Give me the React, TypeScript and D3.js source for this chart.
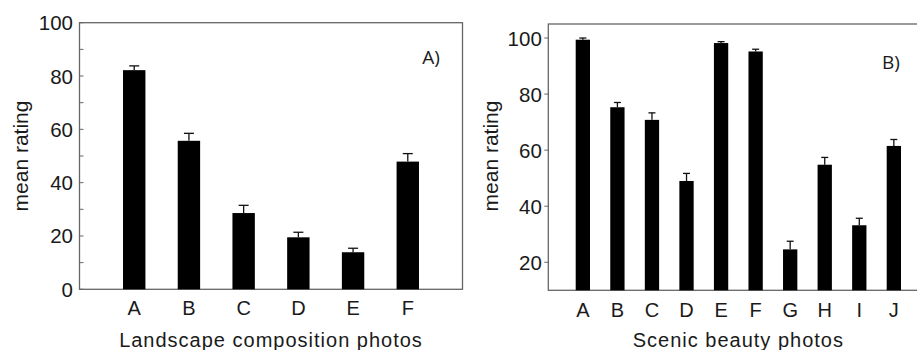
import React, { useEffect, useRef } from 'react';
import * as d3 from 'd3';

const leftCats = ['A', 'B', 'C', 'D', 'E', 'F'];
const leftMeans = [82.2, 55.7, 28.6, 19.5, 13.9, 47.9];
const leftErrTop = [83.8, 58.5, 31.5, 21.4, 15.4, 50.9];
const leftTicks = [0, 20, 40, 60, 80, 100];
const leftMinor = [10, 30, 50, 70, 90];

const rightCats = ['A', 'B', 'C', 'D', 'E', 'F', 'G', 'H', 'I', 'J'];
const rightMeans = [99.4, 75.3, 70.8, 49.0, 98.2, 95.2, 24.6, 54.8, 33.2, 61.5];
const rightErrTop = [100.0, 77.0, 73.3, 51.7, 98.7, 96.0, 27.5, 57.4, 35.7, 63.8];
const rightTicks = [20, 40, 60, 80, 100];

const FONT = '"Liberation Sans", Arial, sans-serif';
const AXIS = '#666';

interface PanelCfg {
  cats: string[];
  means: number[];
  errTop: number[];
  ticks: number[];
  minor: number[];
  yDomain: [number, number];
  left: number;
  right: number;
  top: number;
  bottom: number;
  barW: number;
  capW: number;
  tickIn: boolean;
  tag: string;
  tagX: number;
  tagY: number;
  yLabelX: number;
  catY: number;
  title: string;
}

const App: React.FC = () => {
  const svgRef = useRef<SVGSVGElement>(null);

  useEffect(() => {
    if (!svgRef.current) return;
    const svg = d3.select(svgRef.current);
    svg.selectAll('*').remove();

    const drawPanel = (c: PanelCfg) => {
      const g = svg.append('g');
      const x = d3.scaleLinear().domain([0, c.cats.length + 1]).range([c.left, c.right]);
      const y = d3.scaleLinear().domain(c.yDomain).range([c.bottom, c.top]);

      // frame
      g.append('rect')
        .attr('x', c.left).attr('y', c.top)
        .attr('width', c.right - c.left).attr('height', c.bottom - c.top)
        .attr('fill', 'none').attr('stroke', AXIS).attr('stroke-width', 1.3);

      // bars
      g.selectAll('.bar')
        .data(c.means)
        .enter()
        .append('rect')
        .attr('x', (d, i) => x(i + 1) - c.barW / 2)
        .attr('y', d => y(d))
        .attr('width', c.barW)
        .attr('height', d => y(c.yDomain[0]) - y(d))
        .attr('fill', '#000');

      // error bars (upper only)
      const eb = g.selectAll('.err').data(c.errTop).enter().append('g');
      eb.append('line')
        .attr('x1', (d, i) => x(i + 1)).attr('x2', (d, i) => x(i + 1))
        .attr('y1', (d, i) => y(c.means[i])).attr('y2', d => y(d))
        .attr('stroke', '#111').attr('stroke-width', 1.3);
      eb.append('line')
        .attr('x1', (d, i) => x(i + 1) - c.capW / 2).attr('x2', (d, i) => x(i + 1) + c.capW / 2)
        .attr('y1', d => y(d)).attr('y2', d => y(d))
        .attr('stroke', '#111').attr('stroke-width', 1.3);

      // y ticks
      const tl = 4;
      const allTicks = [...c.ticks, ...c.minor];
      g.selectAll('.tick')
        .data(allTicks)
        .enter()
        .append('line')
        .attr('x1', c.left)
        .attr('x2', c.tickIn ? c.left + tl : c.left - tl)
        .attr('y1', d => y(d)).attr('y2', d => y(d))
        .attr('stroke', AXIS).attr('stroke-width', 1);

      g.selectAll('.tlab')
        .data(c.ticks)
        .enter()
        .append('text')
        .attr('x', c.left - 6.5)
        .attr('y', d => y(d))
        .attr('text-anchor', 'end')
        .attr('dominant-baseline', 'central')
        .attr('font-family', FONT).attr('font-size', 20.5).attr('fill', '#1a1a1a')
        .text(d => d);

      // category labels
      g.selectAll('.clab')
        .data(c.cats)
        .enter()
        .append('text')
        .attr('x', (d, i) => x(i + 1))
        .attr('y', c.catY)
        .attr('text-anchor', 'middle')
        .attr('dominant-baseline', 'central')
        .attr('font-family', FONT).attr('font-size', 20).attr('fill', '#1a1a1a')
        .text(d => d);

      // axis titles
      const midX = (x(c.cats.length) + x(1)) / 2;
      g.append('text')
        .attr('x', midX).attr('y', 340)
        .attr('text-anchor', 'middle').attr('dominant-baseline', 'central')
        .attr('font-family', FONT).attr('font-size', 20).attr('letter-spacing', 1)
        .attr('fill', '#1a1a1a')
        .text(c.title);

      g.append('text')
        .attr('transform', `translate(${c.yLabelX},156) rotate(-90)`)
        .attr('text-anchor', 'middle').attr('dominant-baseline', 'central')
        .attr('font-family', FONT).attr('font-size', 21).attr('fill', '#1a1a1a')
        .text('mean rating');

      g.append('text')
        .attr('x', c.tagX).attr('y', c.tagY)
        .attr('text-anchor', 'middle').attr('dominant-baseline', 'central')
        .attr('font-family', '"Open Sans", sans-serif').attr('font-size', 19).attr('fill', '#1a1a1a')
        .text(c.tag);
    };

    drawPanel({
      cats: leftCats, means: leftMeans, errTop: leftErrTop,
      ticks: leftTicks, minor: leftMinor, yDomain: [0, 100],
      left: 79.5, right: 462.5, top: 22.7, bottom: 289.3,
      barW: 22.4, capW: 10, tickIn: true,
      tag: 'A)', tagX: 431, tagY: 57, yLabelX: 20, catY: 308,
      title: 'Landscape composition photos',
    });

    drawPanel({
      cats: rightCats, means: rightMeans, errTop: rightErrTop,
      ticks: rightTicks, minor: [], yDomain: [10, 105],
      left: 548.3, right: 928.4, top: 24, bottom: 290.3,
      barW: 14.3, capW: 7, tickIn: false,
      tag: 'B)', tagX: 891, tagY: 62, yLabelX: 490, catY: 310,
      title: 'Scenic beauty photos',
    });
  }, []);

  return (
    <svg
      ref={svgRef}
      width={917}
      height={350}
      style={{ position: 'absolute', left: 0, top: 0, background: '#fff' }}
    ></svg>
  );
};

export default App;
